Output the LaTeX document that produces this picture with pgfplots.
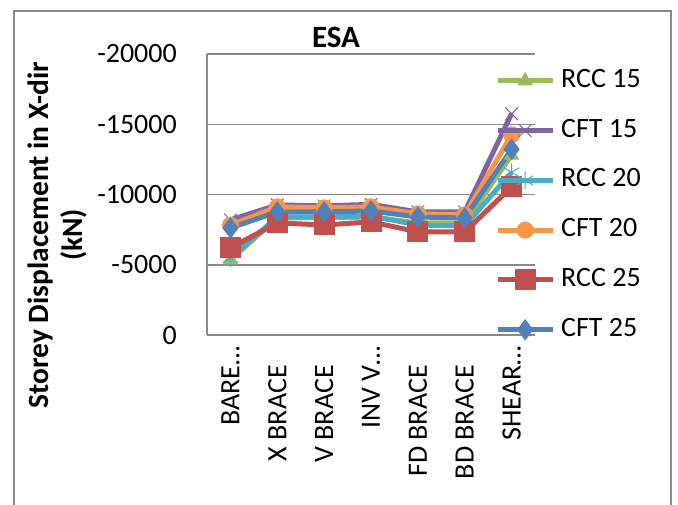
\documentclass[border=0pt]{standalone}
\usepackage{pgfplots}
\pgfplotsset{compat=1.18}
\usepackage{fontspec}
\setmainfont{Carlito}
\definecolor{cRCCa}{HTML}{9BBB59}
\definecolor{cCFTa}{HTML}{8064A2}
\definecolor{cRCCb}{HTML}{4BACC6}
\definecolor{cCFTb}{HTML}{F79646}
\definecolor{cRCCc}{HTML}{C0504D}
\definecolor{cCFTc}{HTML}{4F81BD}
\definecolor{gridc}{HTML}{898989}

\begin{document}
\begin{tikzpicture}[x=1pt,y=1pt,font=\fontsize{28}{33}\selectfont]
\useasboundingbox (0,0) rectangle (678,-504);
\draw[gridc, line width=2pt] (14,-530) -- (14,-11) -- (671,-11) -- (671,-530);
\begin{axis}[
  at={(207pt,-335pt)}, anchor=south west,
  scale only axis, width=328pt, height=281pt,
  xmin=-0.5, xmax=6.5, ymin=-20000, ymax=0, y dir=reverse,
  scaled y ticks=false,
  xtick={0,1,2,3,4,5,6},
  xticklabels={{BARE…},{X BRACE\hspace*{19pt}},{V BRACE\hspace*{19pt}},{INV V…},{FD BRACE\hspace*{19pt}},{BD BRACE\hspace*{19pt}},{SHEAR…}},
  ytick={-20000,-15000,-10000,-5000,0},
  yticklabels={-20000,-15000,-10000,-5000,0},
  extra x ticks={-0.5}, extra x tick labels={},
  extra x tick style={grid=major},
  ymajorgrids,
  grid style={gridc, line width=1.5pt},
  axis line style={draw=none},
  major tick length=0pt, tick style={draw=none},
  tick label style={font=\fontsize{28}{33}\selectfont},
  yticklabel style={anchor=east, inner sep=0pt, xshift=-30pt},
  xticklabel style={rotate=90, anchor=east, inner sep=0pt, inner xsep=11pt},
  clip=false,
  every axis plot/.append style={line width=5pt, line join=round},
  legend style={draw=none, fill=none, at={(rel axis cs:0.878,0.95)}, anchor=north west,
    inner sep=0pt, row sep=24.8pt, column sep=6pt, font=\fontsize{28}{33}\selectfont,
    nodes={inner sep=0pt, text height=19pt, text depth=6pt}},
  legend cell align=left,
  legend image code/.code={\draw[mark repeat=2,mark phase=2] plot coordinates {(0pt,0pt) (27.5pt,0pt) (55pt,0pt)};},
]
\addplot[cRCCa, mark=triangle*, mark size=8pt, mark options={solid, line width=1pt}]
  coordinates {(0,-5340) (1,-8330) (2,-8330) (3,-8400) (4,-7980) (5,-7980) (6,-12800)};
\addplot[cCFTa, mark=x, mark size=9pt, mark options={solid, line width=1pt}]
  coordinates {(0,-8190) (1,-9260) (2,-9190) (3,-9300) (4,-8760) (5,-8760) (6,-15750)};
\addplot[cRCCb, mark=asterisk, mark size=9pt, mark options={solid, line width=1pt}]
  coordinates {(0,-5480) (1,-8400) (2,-8400) (3,-8470) (4,-7830) (5,-7760) (6,-11580)};
\addplot[cCFTb, mark=*, mark size=8pt, mark options={solid, line width=1pt}]
  coordinates {(0,-7830) (1,-9120) (2,-9050) (3,-9120) (4,-8620) (5,-8550) (6,-14250)};
\addplot[cRCCc, mark=square*, mark size=10pt, mark options={solid, line width=1pt}]
  coordinates {(0,-6200) (1,-7980) (2,-7830) (3,-8050) (4,-7340) (5,-7340) (6,-10540)};
\addplot[cCFTc, mark=diamond*, mark size=10pt, mark options={solid, line width=1pt}]
  coordinates {(0,-7620) (1,-8760) (2,-8760) (3,-8830) (4,-8400) (5,-8330) (6,-13220)};
\legend{RCC 15, CFT 15, RCC 20, CFT 20, RCC 25, CFT 25}
\end{axis}
\node[font=\bfseries\fontsize{31}{36}\selectfont] at (336,-37) {ESA};
\node[font=\bfseries\fontsize{29.5}{34}\selectfont, rotate=90, align=center] at (57,-235)
  {Storey Displacement in X-dir\\(kN)};
\end{tikzpicture}
\end{document}
